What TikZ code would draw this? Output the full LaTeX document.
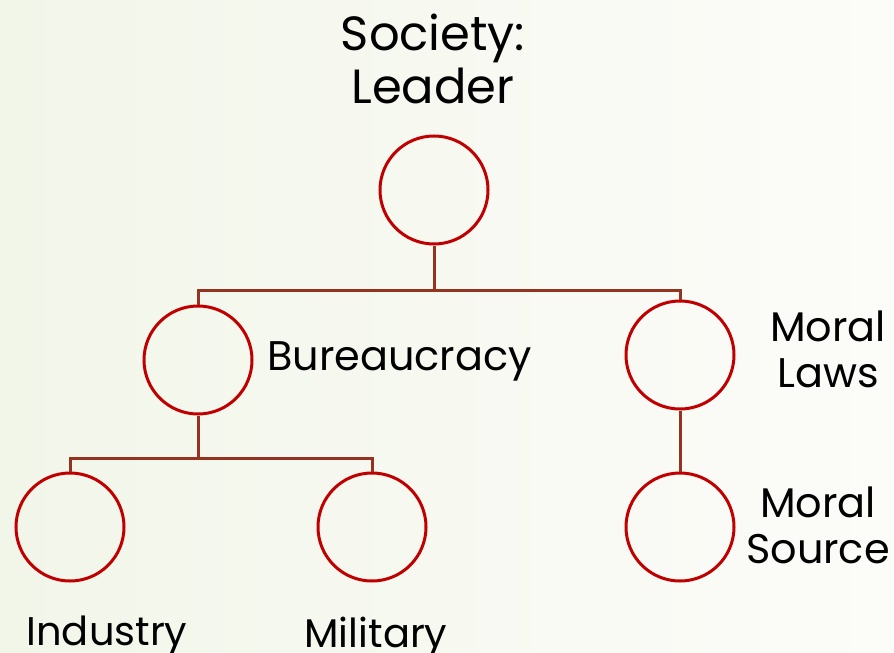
\documentclass[tikz,border=0pt]{standalone}
\usepackage{fontspec}
\setmainfont{Poppins}
\definecolor{ring}{RGB}{192,0,0}
\definecolor{stem}{RGB}{148,52,32}
\definecolor{bgl}{RGB}{242,246,233}
\definecolor{bgr}{RGB}{252,252,249}
\begin{document}
\begin{tikzpicture}[x=0.5pt,y=-0.5pt,
    c/.style={circle,draw=ring,line width=1.5pt,minimum size=54pt,inner sep=0pt},
    ln/.style={draw=stem,line width=1.5pt},
    big/.style={font=\fontsize{24}{26.5}\selectfont,inner sep=0pt,align=center},
    side/.style={font=\fontsize{20.7}{23}\selectfont,inner sep=0pt,align=center},
    low/.style={font=\fontsize{20}{23}\selectfont,inner sep=0pt}]
  \shade[left color=bgl,right color=bgr] (0,0) rectangle (894,653);
  \useasboundingbox (0,0) rectangle (894,653);
  % circles
  \node[c] (lead) at (434,190) {};
  \node[c] (bur) at (198,360) {};
  \node[c] (laws) at (680,355) {};
  \node[c] (ind) at (70,527) {};
  \node[c] (mil) at (372,527) {};
  \node[c] (src) at (680,527) {};
  % texts
  \node[big] (tlead) at (433,59) {Society:\\Leader};
  \node[side,anchor=base west] (tbur) at (267,370) {Bureaucracy};
  \node[side] (tlaws) at (828,349) {Moral\\Laws};
  \node[side] (tsrc) at (818,525) {Moral\\Source};
  \node[low,anchor=base] (tind) at (107,645) {Industry};
  \node[low,anchor=base] (tmil) at (376,647) {Military};
  % tree
  \coordinate (j1) at (434,290);
  \coordinate (j2) at (198,458);
  \draw[ln] (lead) -- (j1);
  \draw[ln] (bur.north) |- (j1) -| (laws.north);
  \draw[ln] (bur) -- (j2);
  \draw[ln] (ind.north) |- (j2) -| (mil.north);
  \draw[ln] (laws) -- (src);
\end{tikzpicture}
\end{document}
